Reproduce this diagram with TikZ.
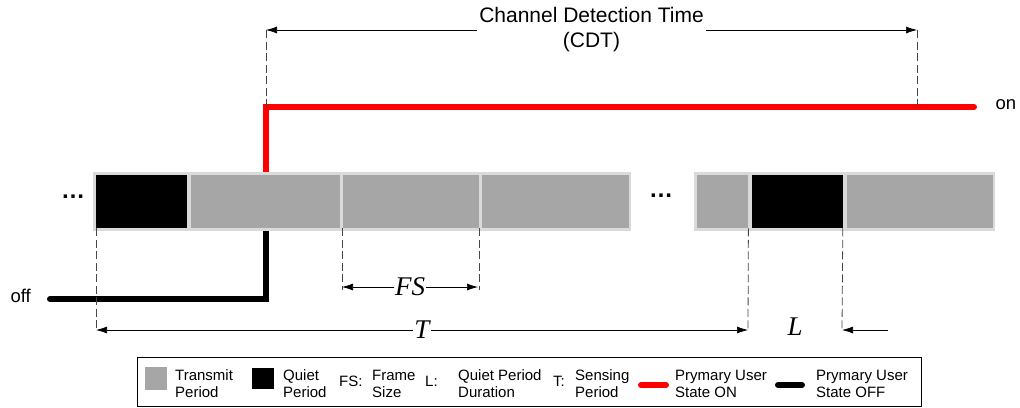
\documentclass[tikz,border=0pt]{standalone}
\usepackage{xcolor}
\usepackage{fontspec}
\setmainfont{Liberation Sans}
\newfontfamily\lblfont{Liberation Serif}
\usepackage{tikz}
\usetikzlibrary{positioning,arrows.meta}
\definecolor{cellgray}{RGB}{166,166,166}
\definecolor{framegray}{RGB}{218,218,218}
\definecolor{guidegray}{RGB}{70,70,70}
\definecolor{onred}{RGB}{255,0,0}

\tikzset{
  frame/.style={fill=framegray, inner sep=0pt, minimum height=59pt, anchor=north west},
  cell/.style={fill=cellgray, inner sep=0pt, minimum height=53pt},
  quiet/.style={cell, fill=black},
  guide/.style={draw=guidegray, line width=0.8pt, dash pattern=on 8pt off 3.5pt},
  dim/.style={draw=black, line width=0.7pt, {Latex[length=11pt,width=7pt]}-{Latex[length=11pt,width=7pt]}},
  onstate/.style={draw=onred, line width=6pt, line cap=round},
  offstate/.style={draw=black, line width=6pt, line cap=round},
  sym/.style={font=\fontsize{27}{30}\selectfont\lblfont\itshape, inner sep=1pt},
  lgd/.style={font=\fontsize{15}{17}\selectfont, align=left, anchor=west, inner sep=0pt},
  gap/.style={font=\fontsize{24}{24}\selectfont\bfseries},
}

\begin{document}
\begin{tikzpicture}[x=1pt, y=-1pt]
  \useasboundingbox (0,0) rectangle (1020,407);

  % left frame
  \node[frame, minimum width=538pt] (bar1) at (93,172) {};
  \node[quiet, minimum width=91pt, anchor=north west] (q1) at (96,175) {};
  \node[cell, minimum width=149pt, right=3pt of q1] (t1) {};
  \node[cell, minimum width=136pt, right=3pt of t1] (t2) {};
  \node[cell, minimum width=147pt, right=3pt of t2] (t3) {};

  % right frame
  \node[frame, minimum width=301pt] (bar2) at (694,172) {};
  \node[cell, minimum width=51pt, anchor=north west] (t4) at (697,175) {};
  \node[quiet, minimum width=91pt, right=3pt of t4] (q2) {};
  \node[cell, minimum width=146pt, right=4pt of q2] (t5) {};

  \node[gap] (dotsL) at (73,197) {\dots};
  \node[gap] (dotsM) at (661,196) {\dots};

  % primary user state
  \coordinate (sw) at (266,200);
  \coordinate (onEnd) at (974,107);
  \coordinate (offStart) at (50,299);
  \draw[onstate, line cap=butt] (sw |- bar1.north) |- (onEnd);
  \draw[onstate] (onEnd) -- ++(-1,0);
  \draw[offstate, line cap=butt] (sw |- bar1.south) |- (offStart);
  \draw[offstate] (offStart) -- ++(1,0);
  \node[font=\fontsize{18.5}{18}\selectfont, anchor=west] (on) at (992,105) {on};
  \node[font=\fontsize{18.5}{18}\selectfont, anchor=west] (off) at (7,296) {off};

  % channel detection time
  \coordinate (cA) at (266,30);
  \coordinate (cB) at (917,30);
  \draw[guide] (cA) -- (cA |- onEnd);
  \draw[guide] (cB) -- (cB |- onEnd);
  \draw[dim] (cA) -- node[fill=white, align=center, inner sep=2pt,
    font=\fontsize{21}{25}\selectfont] (cdt) {Channel Detection Time\\(CDT)} (cB);

  % frame size
  \coordinate (fsA) at (342,287);
  \coordinate (fsB) at (478,287);
  \draw[guide] (t2.south west) -- ++(0,62);
  \draw[guide] (t2.south east) -- ++(0,62);
  \draw[dim] (fsA) -- node[sym, fill=white] (fs) {FS} (fsB);

  % sensing period
  \coordinate (tA) at (96,330);
  \coordinate (tB) at (748,330);
  \draw[guide] (q1.south west) -- (tA);
  \draw[guide] (t4.south east) -- (tB);
  \draw[dim] (tA) -- node[sym, fill=white] (tp) {T} (tB);

  % quiet period duration
  \coordinate (lB) at (842,330);
  \coordinate (lA) at (888,330);
  \draw[guide] (q2.south east) -- (lB);
  \draw[draw=black, line width=0.7pt, -{Latex[length=11pt,width=7pt]}] (lA) -- (lB);
  \node[sym] (lp) at (795,327) {L};

  % legend
  \node[draw=black, line width=0.8pt, minimum width=784pt, minimum height=49pt,
        anchor=north west, inner sep=0pt] (legend) at (137,357) {};
  \node[fill=cellgray, minimum width=22pt, minimum height=23pt, inner sep=0pt] (kT) at (156,378.5) {};
  \node[lgd] (kTt) at (175,384) {Transmit\\Period};
  \node[fill=black, minimum width=22pt, minimum height=21pt, inner sep=0pt] (kQ) at (263,378.5) {};
  \node[lgd] (kQt) at (283,384) {Quiet\\Period};
  \node[lgd] (kFS) at (339,381) {FS:};
  \node[lgd] (kFSt) at (372,384) {Frame\\Size};
  \node[lgd] (kL) at (425,381) {L:};
  \node[lgd] (kLt) at (458,384) {Quiet Period\\Duration};
  \node[lgd] (kTP) at (553,381) {T:};
  \node[lgd] (kTPt) at (575,384) {Sensing\\Period};
  \coordinate (kOnA) at (641,385);
  \coordinate (kOnB) at (666,385);
  \draw[onstate] (kOnA) -- (kOnB);
  \node[lgd] (kOnt) at (675,384) {Prymary User\\State ON};
  \coordinate (kOffA) at (778,385);
  \coordinate (kOffB) at (802,385);
  \draw[offstate] (kOffA) -- (kOffB);
  \node[lgd] (kOfft) at (816,384) {Prymary User\\State OFF};
\end{tikzpicture}
\end{document}
